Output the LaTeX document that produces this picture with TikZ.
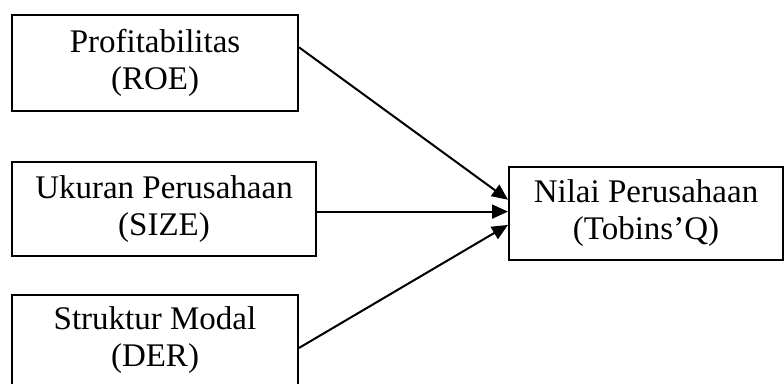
\documentclass[tikz,border=0pt]{standalone}
\usepackage{fontspec}
\setmainfont{Liberation Serif}
\newcommand\boxfont{\fontsize{33}{37}\selectfont}
\usetikzlibrary{arrows.meta,calc}
\begin{document}
\begin{tikzpicture}[x=1pt,y=-1pt,
  box/.style={draw, line width=2pt, inner sep=0pt, align=center,
    font=\boxfont},
  arr/.style={line width=2pt, -{Triangle[length=16pt,width=14pt]}}]
\useasboundingbox (0,0) rectangle (784,383);
\clip (0,0) rectangle (784,383);
\node[box, minimum width=286pt, minimum height=96pt] (b1) at (155,63) {Profitabilitas\\(ROE)};
\node[box, minimum width=304pt, minimum height=94pt] (b2) at (164,209) {Ukuran Perusahaan\\(SIZE)};
\node[box, minimum width=286pt, minimum height=91pt] (b3) at (155,340.5) {Struktur Modal\\(DER)};
\node[box, minimum width=274pt, minimum height=93pt] (b4) at (646,213.5) {Nilai Perusahaan\\(Tobins'Q)};
\coordinate (s1) at ($(b1.north east)!0.34!(b1.south east)$);
\coordinate (s3) at ($(b3.north east)!0.58!(b3.south east)$);
\coordinate (t1) at ($(b4.north west)!0.355!(b4.south west)$);
\coordinate (t2) at ($(b4.north west)!0.48!(b4.south west)$);
\coordinate (t3) at ($(b4.north west)!0.62!(b4.south west)$);
\draw[arr] (s1) -- (t1);
\draw[arr] (b2.east |- t2) -- (t2);
\draw[arr] (s3) -- (t3);
\end{tikzpicture}
\end{document}
